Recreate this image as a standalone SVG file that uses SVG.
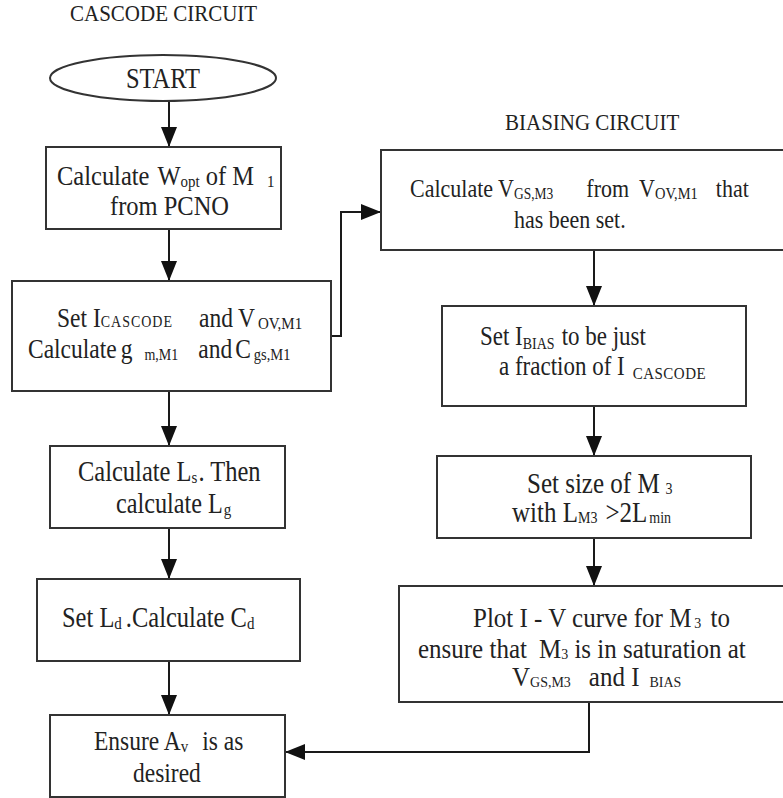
<svg xmlns="http://www.w3.org/2000/svg" width="783" height="798" viewBox="0 0 783 798">
<style>
.bg{fill:#fff}
.box{fill:#fff;stroke:#333;stroke-width:2}
.t{font-family:"Liberation Serif","Times New Roman",serif;font-size:24.5px;fill:#222}
.s{font-size:15px}
.h{font-family:"Liberation Serif","Times New Roman",serif;font-size:21px;fill:#222}
.c{fill:none;stroke:#1a1a1a;stroke-width:2}
</style>
<defs>
<marker id="ah" markerUnits="userSpaceOnUse" markerWidth="20" markerHeight="16" refX="20" refY="8" orient="auto">
<path d="M0,0 L20,8 L0,16 z" fill="#111"/>
</marker>
</defs>
<rect class="bg" x="0" y="0" width="783" height="798"/>

<text class="h" transform="translate(70,21) scale(1,1.13)">CASCODE CIRCUIT</text>
<text class="h" transform="translate(505,130) scale(1,1.13)">BIASING CIRCUIT</text>

<g id="connectors">
<line class="c" x1="169" y1="101" x2="169" y2="147" marker-end="url(#ah)"/>
<line class="c" x1="169" y1="229" x2="169" y2="281" marker-end="url(#ah)"/>
<line class="c" x1="169" y1="391" x2="169" y2="446" marker-end="url(#ah)"/>
<line class="c" x1="169" y1="528" x2="169" y2="579" marker-end="url(#ah)"/>
<line class="c" x1="169" y1="661" x2="169" y2="715" marker-end="url(#ah)"/>
<polyline class="c" points="331,336 341,336 341,212 381,212" marker-end="url(#ah)"/>
<line class="c" x1="594" y1="250" x2="594" y2="306" marker-end="url(#ah)"/>
<line class="c" x1="594" y1="406" x2="594" y2="456" marker-end="url(#ah)"/>
<line class="c" x1="594" y1="538" x2="594" y2="586" marker-end="url(#ah)"/>
<polyline class="c" points="589,702 589,752 285,752" marker-end="url(#ah)"/>
</g>

<g id="start">
<ellipse class="box" cx="163" cy="78" rx="113" ry="23"/>
<text class="t" text-anchor="middle" transform="translate(163,88) scale(1,1.18)">START</text>
</g>

<g id="n1">
<rect class="box" x="46" y="147" width="235" height="82"/>
<text class="t" transform="translate(57,185) scale(1,1.15)"><tspan x="0" y="0">Calculate</tspan><tspan dx="8" y="0">W</tspan><tspan class="s" y="2">opt</tspan><tspan dx="6" y="0">of M</tspan><tspan class="s" dx="13" y="2">1</tspan></text>
<text class="t" transform="translate(110,215) scale(1,1.15)">from PCNO</text>
</g>

<g id="n2">
<rect class="box" x="12" y="281" width="319" height="110"/>
<text class="t" style="font-size:23.5px" transform="translate(57,327) scale(1,1.18)"><tspan x="0" y="0">Set I</tspan><tspan class="s" style="font-size:14px;letter-spacing:1px" y="0">CASCODE</tspan><tspan dx="26" y="0">and</tspan><tspan dx="5" y="0">V</tspan><tspan class="s" dx="3" y="2">OV,M1</tspan></text>
<text class="t" style="font-size:23.5px" transform="translate(28,358) scale(1,1.18)"><tspan x="0" y="0">Calculate</tspan><tspan dx="4" y="0">g</tspan><tspan class="s" dx="12" y="2" style="font-size:14px">m,M1</tspan><tspan dx="20" y="0">and</tspan><tspan dx="3" y="0">C</tspan><tspan class="s" dx="3" y="2" style="font-size:14.5px">gs,M1</tspan></text>
</g>

<g id="n3">
<rect class="box" x="50" y="446" width="235" height="82"/>
<text class="t" transform="translate(78,481) scale(1,1.18)"><tspan x="0" y="0">Calculate L</tspan><tspan class="s" y="2">s</tspan><tspan dx="1" y="0">. Then</tspan></text>
<text class="t" style="font-size:24.2px" transform="translate(116,513) scale(1,1.18)"><tspan x="0" y="0">calculate L</tspan><tspan class="s" dx="1" y="2">g</tspan></text>
</g>

<g id="n4">
<rect class="box" x="37" y="579" width="263" height="82"/>
<text class="t" transform="translate(62,627) scale(1,1.18)"><tspan x="0" y="0">Set L</tspan><tspan class="s" y="2">d</tspan><tspan dx="4" y="0">.Calculate C</tspan><tspan class="s" y="2">d</tspan></text>
</g>

<g id="n5">
<rect class="box" x="50" y="715" width="235" height="82"/>
<text class="t" style="font-size:23.5px" transform="translate(94,750) scale(1,1.18)"><tspan x="0" y="0">Ensure A</tspan><tspan class="s" y="2">v</tspan><tspan dx="14" y="0">is as</tspan></text>
<text class="t" style="font-size:23.5px" transform="translate(133,782) scale(1,1.18)">desired</text>
</g>

<g id="b1">
<rect class="box" x="381" y="150" width="410" height="100"/>
<text class="t" style="font-size:22px" transform="translate(410,197) scale(1,1.18)"><tspan x="0" y="0">Calculate V</tspan><tspan class="s" style="font-size:13.5px" y="2">GS,M3</tspan><tspan dx="33" y="0">from</tspan><tspan dx="10" y="0">V</tspan><tspan class="s" style="font-size:14.5px" y="2">OV,M1</tspan><tspan dx="18" y="0">that</tspan></text>
<text class="t" style="font-size:22px" transform="translate(514,228) scale(1,1.18)">has been set.</text>
</g>

<g id="b2">
<rect class="box" x="442" y="306" width="304" height="100"/>
<text class="t" style="font-size:23px" transform="translate(480,345) scale(1,1.18)"><tspan x="0" y="0">Set I</tspan><tspan class="s" style="font-size:14px" y="3">BIAS</tspan><tspan dx="7" y="0">to be just</tspan></text>
<text class="t" style="font-size:23px" transform="translate(499,375) scale(1,1.18)"><tspan x="0" y="0">a fraction of I</tspan><tspan class="s" style="letter-spacing:0.5px" dx="8" y="3">CASCODE</tspan></text>
</g>

<g id="b3">
<rect class="box" x="437" y="456" width="314" height="82"/>
<text class="t" style="font-size:25px" transform="translate(527,493) scale(1,1.15)"><tspan x="0" y="0">Set size of M</tspan><tspan class="s" style="font-size:14px" dx="6" y="1">3</tspan></text>
<text class="t" style="font-size:25px" transform="translate(512,522) scale(1,1.15)"><tspan x="0" y="0">with L</tspan><tspan class="s" style="font-size:14px" y="1">M3</tspan><tspan dx="8" y="0">&gt;2L</tspan><tspan class="s" style="font-size:14px" dx="2" y="1">min</tspan></text>
</g>

<g id="b4">
<rect class="box" x="399" y="586" width="392" height="116"/>
<text class="t" style="font-size:25px" transform="translate(473,627) scale(1,1.1)"><tspan x="0" y="0">Plot I - V curve for M</tspan><tspan class="s" style="font-size:14px" dx="3" y="1">3</tspan><tspan dx="3" y="0"> to</tspan></text>
<text class="t" style="font-size:25px" transform="translate(418,658) scale(1,1.1)"><tspan x="0" y="0">ensure that</tspan><tspan dx="12" y="0">M</tspan><tspan class="s" style="font-size:14px" y="1">3</tspan><tspan y="0"> is in saturation at</tspan></text>
<text class="t" style="font-size:25px" transform="translate(512,686) scale(1,1.1)"><tspan x="0" y="0">V</tspan><tspan class="s" style="font-size:14px" y="1">GS,M3</tspan><tspan dx="18" y="0">and I</tspan><tspan class="s" style="font-size:14px" dx="10" y="1">BIAS</tspan></text>
</g>
</svg>
